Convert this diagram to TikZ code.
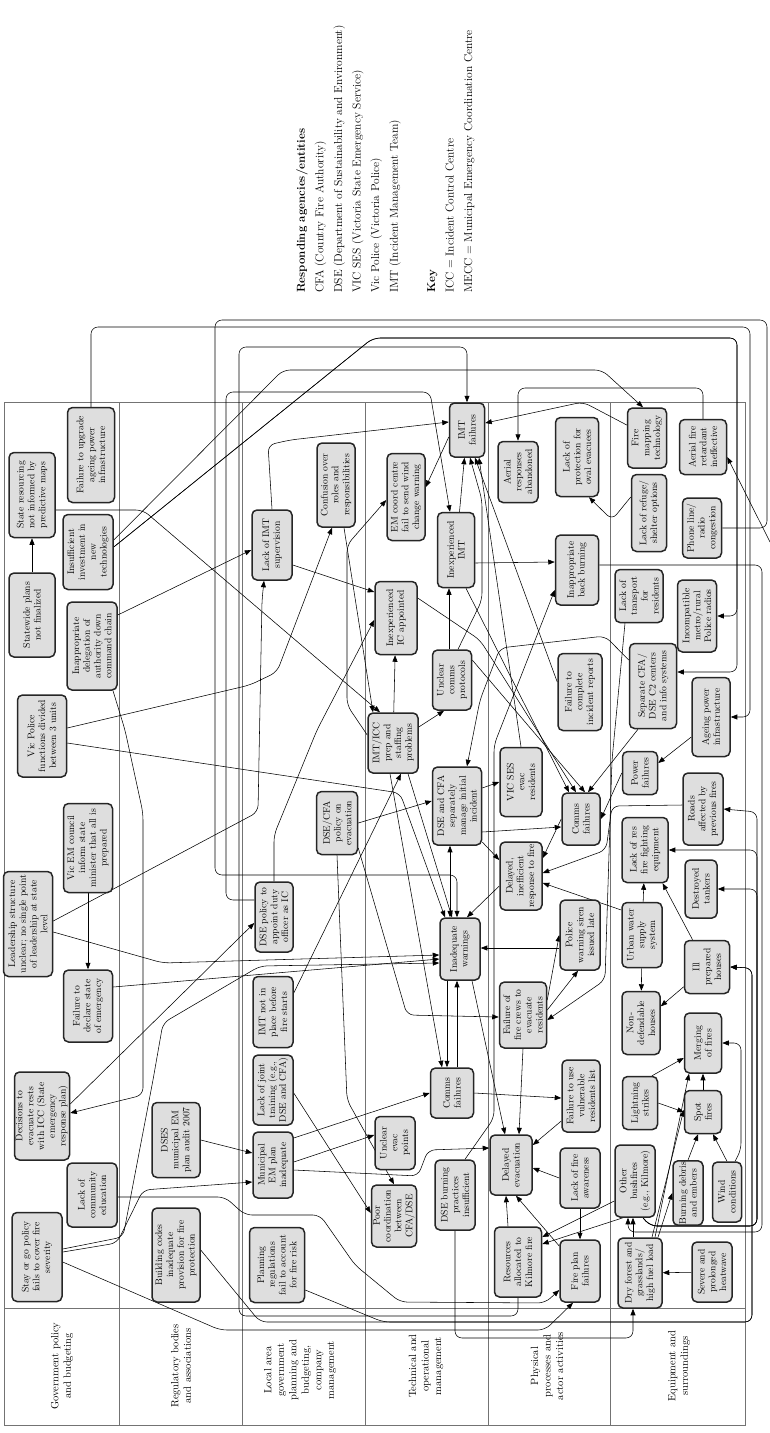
\documentclass[tikz,border=0pt]{standalone}
\usetikzlibrary{arrows.meta,calc}
\pgfdeclarelayer{bg}
\pgfsetlayers{bg,main}
\newcommand{\mybox}[6]{\node[box,minimum width=#5pt,minimum height=#4pt] (#1) at (#2,#3) {#6};}
\begin{document}
\begin{tikzpicture}[x=1pt,y=-1pt,
  box/.style={draw=black!85, line width=1.5pt, rounded corners=5pt, fill=black!13, rotate=90, align=center, font=\fontsize{9.6}{10.8}\selectfont, inner sep=1pt},
  arr/.style={-{Triangle[length=6.5pt,width=5pt]}, line width=0.55pt, rounded corners=7pt},
  dbl/.style={{Triangle[length=6.5pt,width=5pt]}-{Triangle[length=6.5pt,width=5pt]}, line width=0.55pt},
  lane/.style={draw=black!55, line width=0.8pt},
  lanelabel/.style={rotate=90, align=center, font=\fontsize{10.5}{12.5}\selectfont}]
\useasboundingbox (0,0) rectangle (770,1433);

% key
\node[rotate=90, anchor=north west, align=left, inner sep=0pt, font=\fontsize{11.5}{18.6}\selectfont] (key) at (296,293)
 {\textbf{Responding agencies/entities}\\CFA (Country Fire Authority)\\DSE (Department of Sustainability and Environment)\\VIC SES (Victoria State Emergency Service)\\Vic Police (Victoria Police)\\IMT (Incident Management Team)\\[18.6pt]\textbf{Key}\\ICC = Incident Control Centre\\MECC = Municipal Emergency Coordination Centre};

% lane labels
\node[lanelabel] (l1) at (62,1366) {Government policy\\and budgeting};
\node[lanelabel] (l2) at (181,1366) {Regulatory bodies\\and associations};
\node[lanelabel] (l3) at (300,1370) {Local area\\government\\planning and\\budgeting,\\company\\management};
\node[lanelabel] (l4) at (426,1366) {Technical and\\operational\\management};
\node[lanelabel] (l5) at (547,1366) {Physical\\processes and\\actor activities};
\node[lanelabel] (l6) at (679,1366) {Equipment and\\surroundings};

% lane 1
\mybox{srm}{32}{495}{46}{85}{State resourcing\\not informed by\\predictive maps}
\mybox{spn}{32}{615}{46}{84}{Statewide plans\\not finalized}
\mybox{ftu}{91}{455}{47}{95}{Failure to upgrade\\ageing power\\infrastructure}
\mybox{iinv}{88}{552}{50}{75}{Insufficient\\investment in\\new\\technologies}
\mybox{idel}{92}{646}{50}{88}{Inappropriate\\delegation of\\authority down\\command chain}
\mybox{vpf}{42}{736}{49}{82}{Vic Police\\functions divided\\between 3 units}
\mybox{vem}{88}{848}{49}{89}{Vic EM council\\inform state\\minister that all is\\prepared}
\mybox{lsu}{28}{924}{49}{105}{Leadership structure\\unclear; no single point\\of leadership at state\\level}
\mybox{fds}{88}{1006}{49}{72}{Failure to\\declare state\\of emergency}
\mybox{dte}{42}{1116}{55}{88}{Decisions to\\evacuate rests\\with ICC (State\\emergency\\response plan)}
\mybox{sgp}{37}{1257}{50}{89}{Stay or go policy\\fails to cover fire\\severity}
\mybox{lce}{92}{1195}{50}{64}{Lack of\\community\\education}
% lane 2
\mybox{dses}{176}{1140}{48}{75}{DSES\\municipal EM\\plan audit 2007}
\mybox{bci}{176}{1255}{48}{94}{Building codes\\inadequate\\provision for fire\\protection}
% lane 3
\mybox{lims}{272}{545}{40}{70}{Lack of IMT\\supervision}
\mybox{conf}{336}{485}{38}{84}{Confusion over\\roles and\\responsibilities}
\mybox{dsep}{274}{917}{38}{70}{DSE policy to\\appoint duty\\officer as IC}
\mybox{imtn}{273}{1012}{40}{71}{IMT not in\\place before\\fire starts}
\mybox{ljt}{273}{1090}{40}{70}{Lack of joint\\training (e.g.,\\DSE and CFA)}
\mybox{mep}{273}{1165}{40}{66}{Municipal\\EM plan\\inadequate}
\mybox{preg}{277}{1265}{55}{75}{Planning\\regulations\\fail to account\\for fire risk}
\mybox{dcp}{337}{823}{41}{63}{DSE/CFA\\policy on\\evacuation}
% lane 4
\mybox{emc}{406}{497}{38}{87}{EM coord centre\\fail to send wind\\change warning}
\mybox{iic}{396}{618}{42}{73}{Inexperienced\\IC appointed}
\mybox{ipsp}{393}{743}{50}{60}{IMT/ICC\\prep and\\staffing\\problems}
\mybox{ucp}{452}{680}{39}{60}{Unclear\\comms\\protocols}
\mybox{iimt}{456}{550}{37}{75}{Inexperienced\\IMT}
\mybox{imtf}{467}{430}{35}{54}{IMT\\failures}
\mybox{dcs}{457}{806}{49}{78}{DSE and CFA\\separately\\manage initial\\incident}
\mybox{inw}{460}{949}{40}{62}{Inadequate\\warnings}
\mybox{cf2}{452}{1093}{43}{50}{Comms\\failures}
\mybox{pcc}{394}{1216}{45}{62}{Poor\\coordination\\between\\CFA/DSE}
\mybox{uep}{395}{1143}{40}{53}{Unclear\\evac\\points}
\mybox{dbp}{455}{1195}{40}{70}{DSE burning\\practices\\insufficient}
% lane 5
\mybox{de}{511}{1165}{42}{60}{Delayed\\evacuation}
\mybox{rak}{518}{1262}{47}{70}{Resources\\allocated to\\Kilmore fire}
\mybox{fpf}{580}{1271}{40}{62}{Fire plan\\failures}
\mybox{fcr}{523}{1015}{47}{66}{Failure of\\fire crews to\\evacuate\\residents}
\mybox{fuv}{581}{1096}{38}{72}{Failure to use\\vulnerable\\residents list}
\mybox{lfa}{580}{1178}{40}{60}{Lack of fire\\awareness}
\mybox{pws}{580}{935}{40}{70}{Police\\warning siren\\issued late}
\mybox{dir}{521}{876}{42}{68}{Delayed,\\inefficient\\response to fire}
\mybox{vses}{521}{782}{42}{69}{VIC SES\\evac\\residents}
\mybox{cf1}{581}{819}{38}{52}{Comms\\failures}
\mybox{fcir}{580}{692}{44}{77}{Failure to\\complete\\incident reports}
\mybox{ibb}{577}{570}{43}{70}{Inappropriate\\back burning}
\mybox{lpo}{577}{457}{43}{79}{Lack of\\protection for\\oval evacuees}
\mybox{ara}{518}{472}{40}{61}{Aerial\\responses\\abandoned}
% lane 6
\mybox{fmt}{647}{438}{39}{60}{Fire\\mapping\\technology}
\mybox{afr}{703}{447}{47}{55}{Aerial fire\\retardant\\ineffective}
\mybox{lrs}{649}{513}{35}{77}{Lack of refuge/\\shelter options}
\mybox{plr}{702}{528}{39}{60}{Phone line/\\radio\\congestion}
\mybox{ltr}{639}{596}{48}{53}{Lack of\\transport\\for\\residents}
\mybox{imr}{697}{616}{39}{72}{Incompatible\\metro/rural\\Police radios}
\mybox{sep}{653}{686}{47}{85}{Separate CFA/\\DSE C2 centers\\and info systems}
\mybox{apinf}{711}{717}{38}{79}{Ageing power\\infrastructure}
\mybox{pf}{640}{773}{35}{43}{Power\\failures}
\mybox{raf}{703}{809}{40}{72}{Roads\\affected by\\previous fires}
\mybox{lre}{645}{850}{46}{65}{Lack of res\\fire fighting\\equipment}
\mybox{dt}{701}{889}{32}{58}{Destroyed\\tankers}
\mybox{uws}{642}{935}{40}{65}{Urban water\\supply\\system}
\mybox{iph}{707}{967}{45}{53}{Ill\\prepared\\houses}
\mybox{ndh}{641}{1023}{38}{63}{Non-\\defendable\\houses}
\mybox{mf}{703}{1043}{37}{60}{Merging\\of fires}
\mybox{ls}{640}{1103}{35}{53}{Lightning\\strikes}
\mybox{sf}{703}{1112}{37}{43}{Spot\\fires}
\mybox{ob}{635}{1181}{40}{72}{Other\\bushfires\\(e.g., Kilmore)}
\mybox{bde}{688}{1193}{30}{61}{Burning debris\\and embers}
\mybox{wc}{727}{1192}{29}{60}{Wind\\conditions}
\mybox{dfg}{640}{1273}{44}{70}{Dry forest and\\grasslands/\\high fuel load}
\mybox{sph}{712}{1272}{40}{60}{Severe and\\prolonged\\heatwave}

\coordinate (edgeA) at (770,542);

\begin{pgfonlayer}{bg}
% lanes
\draw[lane] (4,402) rectangle (745,1425);
\foreach \xx in {119,242,365,488,610} \draw[lane] (\xx,402) -- (\xx,1425);
\draw[lane] (4,1308) -- (745,1308);

% connectors
\draw[arr] (spn) -- (srm);
\draw[arr] ($(srm.south)+(0,15)$) -- (143,510) -- ($(ipsp.east)+(-13,0)$);
\draw[arr] ($(iinv.south)+(0,-12)$) -- (283,370) -- (602,370) -- ($(fmt.east)+(-4,0)$);
\draw[arr] ($(iinv.south)+(0,-5)$) -- (373,338) -- (737,338) -- (737,616) -- (imr.south);
\draw[arr] ($(iinv.south)+(0,-5)$) -- (373,338) -- (737,338) -- (737,672) -- ($(sep.south)+(0,-14)$);
\draw[arr] (afr.east) -- (703,388) -- (518,388) -- (ara.east);
\draw[arr] ($(fmt.north)+(0,-13)$) -- (583,402) -- ($(imtf.south)+(0,-7)$);
\draw[arr] (ftu.east) -- (91,327) -- (750,327) -- (750,717) -- (apinf.south);
\draw[arr] (plr.south) -- (767,528) -- (767,320) -- (215,320) -- (215,875) -- (457,875) -- ($(inw.east)+(-3,0)$);
\draw[arr] ($(dsep.north)+(0,-17)$) -- (226,900) -- (226,392) -- (430,392) -- ($(iimt.east)+(-6,0)$);
\draw[arr] (rak.west) -- (518,1316) -- (239,1316) -- (239,347) -- (467,347) -- (imtf.east);
\draw[arr] ($(idel.south)+(0,-31)$) -- ($(lims.north)+(0,5)$);
\draw[arr] ($(idel.west)+(21,0)$) -- (125,730) -- (143,813) -- (143,1095) -- ($(dte.south)+(0,-3)$);
\draw[arr] ($(vpf.south)+(0,-8)$) -- (250,685) -- (277,672) -- ($(conf.west)+(-4,0)$);
\draw[arr] ($(vpf.south)+(0,7)$) -- (400,793) -- ($(inw.east)+(-15,0)$);
\draw[arr] ($(lsu.south)+(0,-3)$) -- (258,812) -- (262,600) -- ($(lims.west)+(-8,0)$);
\draw[arr] ($(lsu.south)+(0,8)$) -- (163,963) -- ($(inw.north)+(0,6)$);
\draw[arr] (vem) -- (fds);
\draw[arr] ($(fds.south)+(0,-19)$) -- ($(inw.north)+(0,10)$);
\draw[arr] ($(dte.south)+(0,-12)$) -- ($(dsep.north)+(0,6)$);
\draw[arr] ($(sgp.south)+(0,-5)$) -- (117,1243) -- (143,1190) -- ($(mep.north)+(0,17)$);
\draw[arr] ($(sgp.south)+(0,-8)$) -- (123,1237) -- (153,1080) -- (163,1023) -- (260,966) -- ($(inw.north)+(0,14)$);
\draw[arr] ($(sgp.south)+(0,5)$) -- (220,1330) -- (545,1330) -- ($(fpf.west)+(-7,0)$);
\draw[arr] (dses.south) -- ($(mep.north)+(0,-12)$);
\draw[arr] ($(lce.south)+(0,2)$) -- (225,1197) -- (245,1215) -- (320,1215) -- (355,1265) -- (400,1302) -- (545,1303) -- ($(fpf.north)+(0,19)$);
\draw[arr] ($(bci.south)+(0,-5)$) -- (260,1322) -- (752,1322) -- (752,968) -- (iph.south);
\draw[arr] ($(preg.south)+(0,25)$) -- (383,1322) -- (752,1322) -- (752,968) -- (iph.south);
\draw[arr] ($(ob.west)+(8,0)$) -- (650,1226) -- (757,1226) -- (757,812) -- (raf.south);
\draw[arr] ($(ob.west)+(8,0)$) -- (650,1226) -- (757,1226) -- (757,889) -- (dt.south);
\draw[arr] ($(ob.west)+(8,0)$) -- (650,1226) -- (757,1226) -- (757,850) -- (lre.south);
\draw[arr] ($(wc.east)+(8,0)$) -- (741,1150) -- (741,1043) -- (mf.south);
\draw[arr] ($(ibb.south)+(0,-5)$) -- (762,565) -- (762,1232) -- (628,1232) -- ($(ob.west)+(-7,0)$);
\draw[arr] ($(dfg.east)+(-7,0)$) -- ($(ob.west)+(-2,0)$);
\draw[arr] ($(dfg.east)+(12,0)$) -- ($(sf.north)+(0,-2)$);
\draw[arr] ($(dfg.east)+(15,0)$) -- ($(mf.west)+(-14,0)$);
\draw[arr] ($(dfg.east)+(18,0)$) -- (bde.north);
\draw[arr] (sph) -- (dfg);
\draw[arr] ($(ob.north)+(0,20)$) -- ($(rak.south)+(0,-25)$);
\draw[arr] ($(ob.west)+(-12,0)$) -- ($(rak.south)+(0,-18)$);
\draw[arr] (bde.east) -- ($(sf.west)+(-5,0)$);
\draw[arr] (wc.east) -- ($(sf.west)+(10,0)$);
\draw[arr] (sf) -- (mf);
\draw[arr] (ls.south) -- (sf.north);
\draw[arr] ($(ls.east)+(12,0)$) -- ($(mf.north)+(0,15)$);
\draw[arr] (uws) -- (lre);
\draw[arr] (uws) -- (ndh);
\draw[arr] (iph) -- (ndh);
\draw[arr] (iph) -- (lre);
\draw[arr] ($(uws.north)+(0,-25)$) -- ($(dir.south)+(0,7)$);
\draw[arr] ($(raf.north)+(0,-4)$) -- (612,806) -- (606,850) -- ($(dir.south)+(0,-3)$);
\draw[arr] (cf1.north) -- ($(dir.south)+(0,-18)$);
\draw[arr] ($(dcs.south)+(0,26)$) -- ($(cf1.north)+(0,8)$);
\draw[arr] ($(dcs.south)+(0,-18)$) -- (vses.north);
\draw[arr] ($(dcs.south)+(0,36)$) -- ($(dir.north)+(0,-16)$);
\draw[dbl] ($(dcs.west)+(-7,0)$) -- ($(inw.east)+(-10,0)$);
\draw[arr] ($(dir.north)+(0,10)$) -- ($(inw.east)+(7,0)$);
\draw[arr] ($(pws.north)+(0,13)$) -- ($(inw.south)+(0,-1)$);
\draw[arr] ($(fcr.south)+(0,-15)$) -- (pws.north);
\draw[arr] ($(fcr.south)+(0,-5)$) -- ($(pws.west)+(-2,0)$);
\draw[arr] ($(inw.west)+(-13,0)$) -- ($(cf2.east)+(-5,0)$);
\draw[arr] ($(cf2.east)+(5,0)$) -- ($(inw.west)+(-3,0)$);
\draw[arr] ($(inw.west)+(12,0)$) -- ($(de.east)+(-6,0)$);
\draw[arr] (fcr.west) -- ($(de.east)+(8,0)$);
\draw[arr] ($(ipsp.west)+(-3,0)$) -- ($(cf2.east)+(-10,0)$);
\draw[arr] ($(ipsp.west)+(15,0)$) -- ($(inw.east)+(-8,0)$);
\draw[arr] (cf2.south) -- ($(fuv.north)+(0,2)$);
\draw[arr] ($(fuv.north)+(0,25)$) -- ($(de.south)+(0,-20)$);
\draw[arr] (lfa.north) -- ($(de.south)+(0,3)$);
\draw[arr] (lfa) -- (fpf);
\draw[arr] ($(fpf.north)+(0,-25)$) -- ($(de.west)+(5,0)$);
\draw[arr] ($(rak.east)+(-10,0)$) -- ($(de.west)+(-5,0)$);
\draw[arr] ($(mep.south)+(0,5)$) -- (418,1176) -- (428,1150) -- ($(de.north)+(0,-17)$);
\draw[arr] ($(mep.south)+(0,-3)$) -- ($(uep.north)+(0,-8)$);
\draw[arr] ($(mep.south)+(0,-27)$) -- (cf2.north);
\draw[arr] ($(ljt.south)+(0,3)$) -- ($(pcc.north)+(0,-3)$);
\draw[arr] (dcp.west) -- (347,1100) -- (pcc.east);
\draw[arr] (dcp.south) -- ($(dcs.north)+(0,-5)$);
\draw[arr] ($(dcp.south)+(0,25)$) -- (407,1015) -- ($(fcr.north)+(0,2)$);
\draw[arr] ($(imtn.south)+(0,-19)$) -- ($(ipsp.west)+(8,0)$);
\draw[arr] (dsep.east) -- (274,835) -- (317,730) -- ($(iic.north)+(0,2)$);
\draw[arr] (lims.east) -- (268,445) -- (290,440) -- ($(imtf.north)+(0,-8)$);
\draw[arr] ($(lims.south)+(0,20)$) -- ($(iic.north)+(0,-26)$);
\draw[arr] ($(conf.west)+(8,0)$) -- ($(ipsp.east)+(-20,0)$);
\draw[arr] (ipsp) -- (iic);
\draw[arr] ($(ipsp.north)+(0,-8)$) -- (347,705) -- (347,545) -- ($(emc.north)+(0,3)$);
\draw[arr] ($(imtf.north)+(0,7)$) -- ($(emc.south)+(0,-10)$);
\draw[arr] (iimt) -- (imtf);
\draw[arr] ($(iimt.south)+(0,13)$) -- ($(ibb.north)+(0,-8)$);
\draw[arr] ($(ucp.east)+(6,0)$) -- (482,600) -- (482,500) -- ($(imtf.west)+(3,0)$);
\draw[arr] ($(ucp.east)+(-3,0)$) -- ($(iimt.west)+(-7,0)$);
\draw[arr] ($(ipsp.south)+(0,-16)$) -- ($(ucp.west)+(-8,0)$);
\draw[arr] ($(iic.south)+(0,-20)$) -- (480,640) -- ($(cf1.east)+(-5,0)$);
\draw[arr] ($(iimt.west)+(10,0)$) -- ($(cf1.east)+(-12,0)$);
\draw[arr] ($(ucp.south)+(0,-20)$) -- ($(cf1.east)+(4,0)$);
\draw[arr] ($(fcir.north)+(0,-10)$) -- ($(imtf.west)+(8,0)$);
\draw[arr] (vses.east) -- ($(imtf.west)+(12,0)$);
\draw[arr] ($(sep.north)+(0,-26)$) -- (605,636) -- (500,648) -- (480,700) -- ($(dcs.east)+(10,0)$);
\draw[arr] ($(sep.west)+(-15,0)$) -- ($(cf1.east)+(7,0)$);
\draw[arr] ($(apinf.north)+(0,20)$) -- ($(pf.south)+(0,-10)$);
\draw[arr] (pf.north) -- (cf1.south);
\draw[arr] ($(ltr.west)+(-14,0)$) -- (612,760) -- (605,980) -- ($(fcr.south)+(0,5)$);
\draw[arr] ($(lrs.north)+(0,-16)$) -- (612,520) -- ($(lpo.west)+(12,0)$);
\draw[arr] ($(dbp.east)+(10,0)$) -- (494,1118) -- (494,745) -- ($(ibb.north)+(0,20)$);
\draw[arr] (dbp.west) -- (455,1338) -- (633,1338) -- ($(dfg.west)+(-7,0)$);
\draw[arr] (edgeA) -- ($(afr.south)+(0,10)$);
\end{pgfonlayer}
\end{tikzpicture}
\end{document}
